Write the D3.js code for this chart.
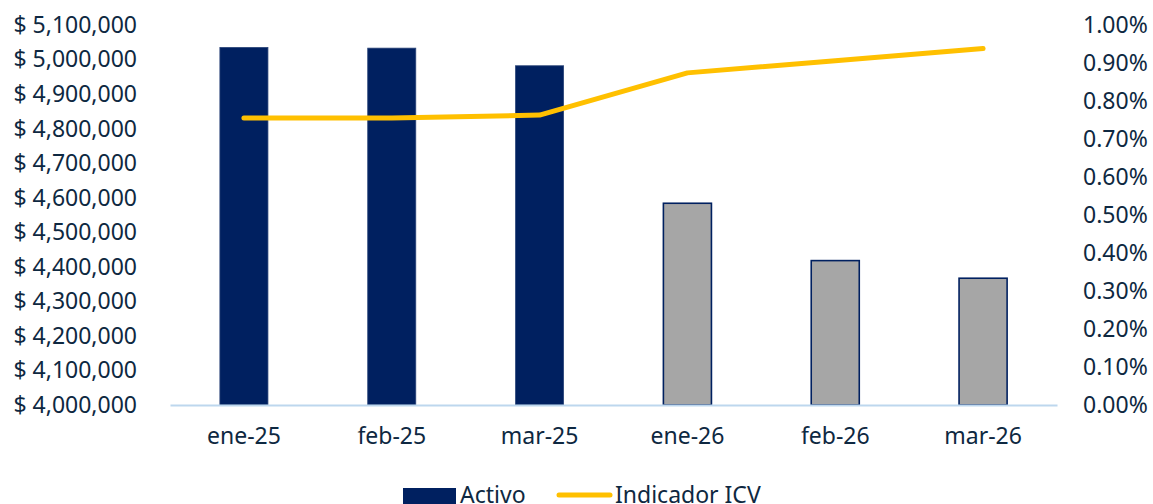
<!DOCTYPE html>
<html lang="es">
<head>
    <meta charset="UTF-8">
    <title>Activo e Indicador ICV</title>
    <script src="https://d3js.org/d3.v7.min.js"></script>
    <style>
        body {
            margin: 0;
            background-color: #ffffff;
            font-family: 'Noto Sans', sans-serif;
        }
        .tick-label {
            fill: #0e2841;
            font-size: 23px;
        }
    </style>
</head>
<body>
    <div id="chart"></div>
    <script>
        // Data
        const months = ["ene-25", "feb-25", "mar-25", "ene-26", "feb-26", "mar-26"];
        const activo = [5035000, 5033000, 4982000, 4584000, 4418000, 4367000];
        const icv = [0.755, 0.755, 0.763, 0.874, 0.906, 0.938]; // percent
        const projected = [false, false, false, true, true, true];
        const leftTicks = d3.range(4000000, 5100001, 100000);
        const rightTicks = d3.range(0, 11).map(d => d / 10);

        const width = 1153, height = 504;
        const plot = { left: 170, right: 1057, top: 25, bottom: 405 };

        const svg = d3.select("#chart")
            .append("svg")
            .attr("width", width)
            .attr("height", height);

        // Scales
        const x = d3.scaleBand()
            .domain(months)
            .range([plot.left, plot.right])
            .paddingInner(0.675)
            .paddingOuter(0.3375);

        const yLeft = d3.scaleLinear().domain([4000000, 5100000]).range([plot.bottom, plot.top]);
        const yRight = d3.scaleLinear().domain([0, 1]).range([plot.bottom, plot.top]);

        const money = d3.format(",.0f");

        // Left axis
        const leftAxis = svg.append("g")
            .attr("transform", "translate(137,0)")
            .call(d3.axisLeft(yLeft).tickValues(leftTicks).tickSize(0).tickPadding(0)
                .tickFormat(d => "$ " + money(d)));
        leftAxis.select(".domain").remove();
        leftAxis.selectAll("text").attr("class", "tick-label").attr("font-family", "Noto Sans");

        // Right axis
        const rightAxis = svg.append("g")
            .attr("transform", "translate(1083,0)")
            .call(d3.axisRight(yRight).tickValues(rightTicks).tickSize(0).tickPadding(0)
                .tickFormat(d => d.toFixed(2) + "%"));
        rightAxis.select(".domain").remove();
        rightAxis.selectAll("text").attr("class", "tick-label").attr("font-family", "Noto Sans");

        // Bars
        svg.selectAll(".bar")
            .data(months)
            .enter()
            .append("rect")
            .attr("class", "bar")
            .attr("x", d => x(d))
            .attr("width", x.bandwidth())
            .attr("y", (d, i) => yLeft(activo[i]))
            .attr("height", (d, i) => yLeft(4000000) - yLeft(activo[i]))
            .attr("fill", (d, i) => projected[i] ? "#a6a6a6" : "#002060")
            .attr("stroke", (d, i) => projected[i] ? "#002060" : "#2a4478")
            .attr("stroke-width", (d, i) => projected[i] ? 1.6 : 0.8);

        // Category axis
        const bottomAxis = svg.append("g")
            .attr("transform", `translate(0,${plot.bottom})`)
            .call(d3.axisBottom(x).tickSize(0).tickPadding(23));
        bottomAxis.select(".domain")
            .attr("stroke", "#bdd7ee")
            .attr("stroke-width", 2);
        bottomAxis.selectAll("text").attr("class", "tick-label").attr("font-family", "Noto Sans");

        // ICV line
        const line = d3.line()
            .x((d, i) => x(months[i]) + x.bandwidth() / 2)
            .y(d => yRight(d));

        svg.append("path")
            .datum(icv)
            .attr("d", line)
            .attr("fill", "none")
            .attr("stroke", "#ffc000")
            .attr("stroke-width", 5)
            .attr("stroke-linecap", "round")
            .attr("stroke-linejoin", "round");

        // Legend
        const legend = svg.append("g");
        legend.append("rect")
            .attr("x", 403).attr("y", 488)
            .attr("width", 53).attr("height", 20)
            .attr("fill", "#002060");
        legend.append("text")
            .attr("class", "tick-label")
            .attr("x", 460).attr("y", 503)
            .text("Activo");
        legend.append("line")
            .attr("x1", 559).attr("x2", 610)
            .attr("y1", 495).attr("y2", 495)
            .attr("stroke", "#ffc000")
            .attr("stroke-width", 5)
            .attr("stroke-linecap", "round");
        legend.append("text")
            .attr("class", "tick-label")
            .attr("x", 615).attr("y", 503)
            .text("Indicador ICV");
    </script>
</body>
</html>
